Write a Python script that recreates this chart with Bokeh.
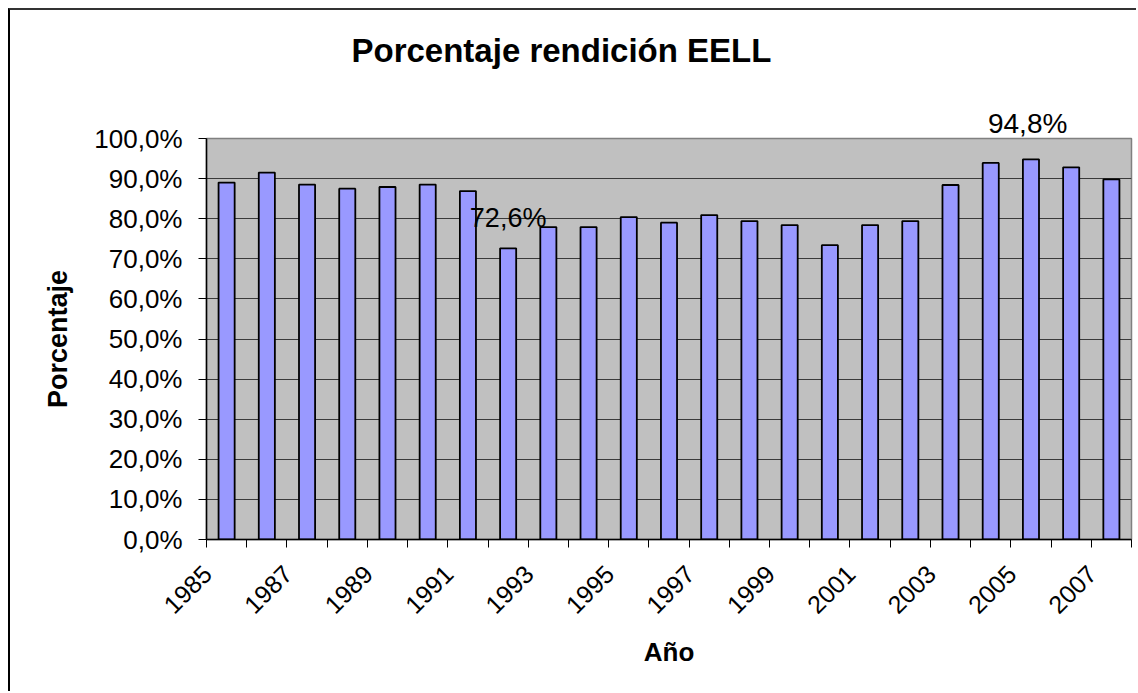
from bokeh.plotting import figure
from bokeh.models import FixedTicker, Label, Range1d, Title
from bokeh.embed import file_html
from bokeh.resources import INLINE

# ---- data ----
years = [1985, 1986, 1987, 1988, 1989, 1990, 1991, 1992, 1993, 1994, 1995, 1996,
         1997, 1998, 1999, 2000, 2001, 2002, 2003, 2004, 2005, 2006, 2007]
values = [89.0, 91.5, 88.5, 87.5, 87.9, 88.5, 86.9, 72.6, 77.9, 77.9, 80.4, 79.0,
          80.9, 79.4, 78.4, 73.4, 78.4, 79.4, 88.4, 93.9, 94.8, 92.8, 89.8]
y_ticks = [0, 10, 20, 30, 40, 50, 60, 70, 80, 90, 100]
x_label_years = years[::2]
title_text = "Porcentaje rendición EELL"
x_title = "Año"
y_title = "Porcentaje"

def pct(v):
    return f"{v:.1f}%".replace(".", ",")

FONT = "Liberation Sans"
W, H = 1128, 683
BL, BR, BT, BB = 196, 7, 128, 154
FRAME_W = W - BL - BR

p = figure(width=W, height=H, output_backend="svg", toolbar_location=None,
           x_range=Range1d(years[0] - 0.5, years[-1] + 0.5),
           y_range=Range1d(0, 100),
           min_border_left=BL, min_border_right=BR,
           min_border_top=BT, min_border_bottom=BB)
p.styles = {"border-left": "2px solid #000000", "border-top": "2px solid #333333",
            "margin-left": "8px", "margin-top": "8px"}

p.background_fill_color = "#C0C0C0"
p.border_fill_color = "white"
p.outline_line_color = "#808080"
p.outline_line_width = 1.5

# bars
p.vbar(x=years, top=values, width=0.4, bottom=0,
       fill_color="#9999FF", line_color="black", line_width=1.8)

# data label for the minimum (inside the frame)
i_min = values.index(min(values))
p.add_layout(Label(x=years[i_min], y=values[i_min], text=pct(values[i_min]), y_offset=30,
                   text_align="center", text_baseline="middle",
                   text_font=FONT, text_font_size="27px", text_color="black"))

# data label for the maximum (sits above the frame, so placed as a header line)
i_max = values.index(max(values))
px_per_cat = FRAME_W / len(years)
max_center = (i_max + 0.5) * px_per_cat
p.add_layout(Title(text=pct(values[i_max]), align="left", offset=max_center - 43,
                   text_font=FONT, text_font_size="28px", text_font_style="normal",
                   text_baseline="alphabetic",
                   text_color="black", standoff=0), "above")
# empty spacer line between the data label and the chart title
p.add_layout(Title(text=" ", text_font_size="1px", standoff=34), "above")

# title
p.title.text = title_text
p.title.text_font = FONT
p.title.text_font_size = "33px"
p.title.text_font_style = "bold"
p.title.text_color = "black"
p.title.align = "left"
p.title.offset = 145
p.title.standoff = 0

# y axis
p.yaxis.ticker = FixedTicker(ticks=y_ticks)
p.yaxis.major_label_overrides = {t: pct(t) for t in y_ticks}
p.yaxis.major_label_text_font = FONT
p.yaxis.major_label_text_font_size = "26px"
p.yaxis.major_label_text_color = "black"
p.yaxis.major_tick_out = 8
p.yaxis.major_tick_in = 0
p.yaxis.minor_tick_line_color = None
p.yaxis.major_label_standoff = 16
p.yaxis.axis_line_color = "black"
p.yaxis.axis_line_width = 1.5
p.yaxis.major_tick_line_color = "black"
p.yaxis.axis_label = y_title
p.yaxis.axis_label_text_font = FONT
p.yaxis.axis_label_text_font_size = "27px"
p.yaxis.axis_label_text_font_style = "bold"
p.yaxis.axis_label_text_color = "black"
p.yaxis.axis_label_standoff = 18

# x axis
label_pos = [y - 0.48 for y in x_label_years]
boundaries = [y - 0.5 for y in years] + [years[-1] + 0.5]
p.xaxis.ticker = FixedTicker(ticks=label_pos, minor_ticks=boundaries)
p.xaxis.major_label_overrides = {pos: str(y) for pos, y in zip(label_pos, x_label_years)}
p.xaxis.major_label_orientation = 0.7854
p.xaxis.major_label_text_font = FONT
p.xaxis.major_label_text_font_size = "25px"
p.xaxis.major_label_text_color = "black"
p.xaxis.major_tick_line_color = None
p.xaxis.major_tick_out = 8
p.xaxis.major_tick_in = 0
p.xaxis.minor_tick_line_color = "black"
p.xaxis.minor_tick_out = 8
p.xaxis.minor_tick_in = 0
p.xaxis.major_label_standoff = 22
p.xaxis.axis_line_color = "black"
p.xaxis.axis_line_width = 1.5
p.xaxis.axis_label = x_title
p.xaxis.axis_label_text_font = FONT
p.xaxis.axis_label_text_font_size = "26px"
p.xaxis.axis_label_text_font_style = "bold"
p.xaxis.axis_label_text_color = "black"
p.xaxis.axis_label_standoff = 12

# grid
p.xgrid.grid_line_color = None
p.ygrid.ticker = FixedTicker(ticks=y_ticks)
p.ygrid.grid_line_color = "#3a3a3a"
p.ygrid.grid_line_width = 1

open("out.html", "w").write(file_html(p, INLINE))
